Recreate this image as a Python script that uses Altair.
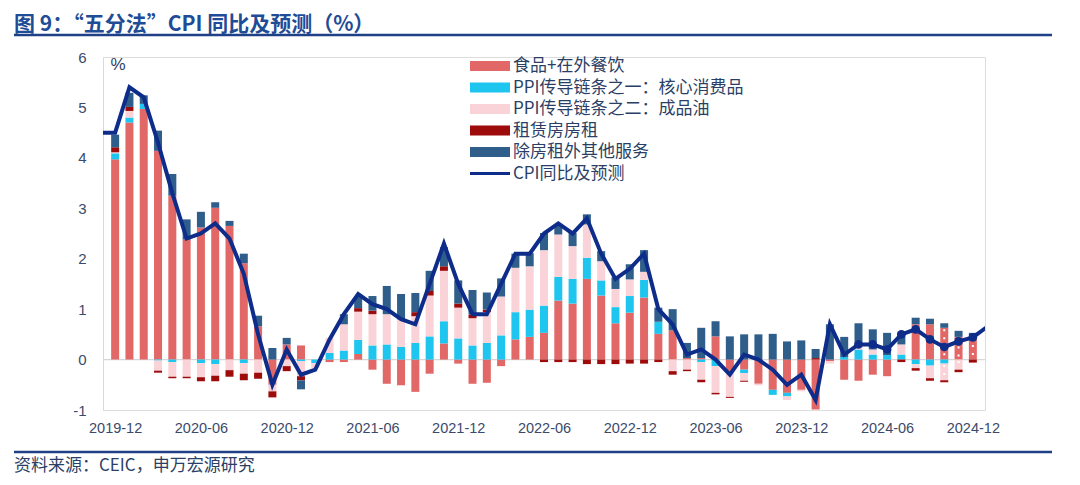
import altair as alt
import pandas as pd

# ---------------- data ----------------
months = [p.strftime("%Y-%m") for p in pd.period_range("2019-12", "2024-12", freq="M")]
tick_labels = ["2019-12", "2020-06", "2020-12", "2021-06", "2021-12", "2022-06",
               "2022-12", "2023-06", "2023-12", "2024-06", "2024-12"]

series_names = ["食品+在外餐饮", "PPI传导链条之一：核心消费品", "PPI传导链条之二：成品油",
                "租赁房房租", "除房租外其他服务"]
series_colors = ["#E26767", "#1EC6EF", "#F9D3D7", "#9E0B0B", "#2F5E8B"]
line_name = "CPI同比及预测"
line_color = "#0E2C8A"

food = [3.97, 4.70, 4.97, 4.14, 3.25, 2.38, 2.62, 3.01, 2.65, 1.91, 0.66, -0.50, 0.30, 0.28, 0.00,
        -0.05, -0.05, 0.11, -0.20, -0.48, -0.51, -0.64, -0.28, 0.32, -0.08, -0.48, -0.46, -0.13, 0.40, 0.45,
        0.53, 1.17, 1.11, 1.60, 1.27, 0.72, 0.93, 1.23, 0.51, 0.58, 0.03, 0.03, 0.46, -0.26, -0.20,
        -0.48, -0.60, -0.66, -0.60, -0.99,
        -0.03, -0.40, -0.42, -0.30, -0.33, 0.00, 0.70, 0.70, 0.63, 0.45, 0.48]
core = [0.12, 0.10, 0.10, -0.02, -0.05, 0.00, -0.07, -0.09, 0.00, -0.07, 0.00, 0.00, 0.00, -0.03, -0.07,
        0.13, 0.18, 0.28, 0.28, 0.30, 0.25, 0.33, 0.46, 0.44, 0.42, 0.28, 0.33, 0.48, 0.54, 0.54,
        0.54, 0.47, 0.49, 0.42, 0.30, 0.32, 0.33, 0.35, 0.24, 0.00, 0.00, -0.05, -0.13, 0.00, -0.07,
        0.00, -0.10, -0.07, 0.00, 0.00,
        0.00, 0.05, 0.20, 0.10, 0.09, 0.10, -0.09, -0.12, -0.08, 0.00, 0.00]
oil = [0.02, 0.13, 0.00, -0.20, -0.29, -0.34, -0.28, -0.23, -0.21, -0.21, -0.26, -0.13, -0.13, -0.30, -0.10,
       0.30, 0.52, 0.56, 0.62, 0.60, 0.55, 0.53, 0.81, 1.00, 0.61, 0.54, 0.61, 0.77, 0.88, 0.86,
       1.10, 0.84, 0.65, 0.66, 0.38, 0.36, 0.33, 0.16, 0.00, -0.23, -0.20, -0.35, -0.53, -0.48, -0.15,
       -0.03, 0.00, -0.07, -0.03, 0.00,
       -0.05, 0.00, 0.10, 0.10, 0.00, 0.20, -0.08, -0.25, -0.33, -0.20, 0.00]
rent = [0.10, 0.08, 0.00, -0.04, -0.03, -0.03, -0.08, -0.11, -0.13, -0.13, -0.12, -0.12, -0.10, -0.08, 0.00,
        0.00, 0.00, 0.07, 0.07, 0.00, 0.00, 0.08, 0.09, 0.09, 0.08, 0.07, 0.05, 0.00, 0.00, 0.00,
        -0.05, -0.05, -0.05, -0.09, -0.09, -0.09, -0.08, -0.08, -0.05, -0.07, -0.03, -0.05, -0.03, -0.02, -0.02,
        0.00, 0.00, 0.00, 0.00, 0.03,
        0.00, 0.00, 0.00, 0.00, 0.00, -0.05, -0.05, -0.05, -0.04, -0.05, -0.06]
serv = [0.25, 0.28, 0.17, 0.40, 0.43, 0.40, 0.31, 0.11, 0.10, 0.19, 0.21, 0.23, 0.13, -0.18, 0.00,
        0.00, 0.20, 0.23, 0.29, 0.56, 0.50, 0.38, 0.40, 0.38, 0.46, 0.49, 0.34, 0.36, 0.28, 0.26,
        0.34, 0.20, 0.26, 0.20, 0.20, 0.23, 0.30, 0.43, 0.28, 0.42, 0.30, 0.60, 0.30, 0.46, 0.50,
        0.50, 0.51, 0.36, 0.38, 0.18,
        0.70, 0.40, 0.42, 0.40, 0.44, 0.24, 0.13, 0.11, 0.09, 0.12, 0.05]

# CPI y/y: 2019-11 ... 2025-01 (first and last points are clipped at the plot edge)
cpi = [4.5,
       4.5, 5.4, 5.2, 4.3, 3.3, 2.4, 2.5, 2.7, 2.4, 1.7, 0.5, -0.5, 0.2,
       -0.3, -0.2, 0.4, 0.9, 1.3, 1.1, 1.0, 0.8, 0.7, 1.5, 2.3, 1.5,
       0.9, 0.9, 1.5, 2.1, 2.1, 2.5, 2.7, 2.5, 2.8, 2.1, 1.6, 1.8,
       2.1, 1.0, 0.7, 0.1, 0.2, 0.0, -0.3, 0.1, 0.0, -0.2, -0.5, -0.3,
       -0.8, 0.7, 0.1, 0.3, 0.3, 0.2, 0.5, 0.6, 0.4, 0.25, 0.36, 0.44,
       0.65]
marker_from = "2024-04"
forecast_from = "2024-10"          # bars drawn with a dotted (forecast) fill
dotted_series = ["食品+在外餐饮", "PPI传导链条之二：成品油"]

title_text = "图 9：“五分法”CPI 同比及预测（%）"
source_text = "资料来源：CEIC，申万宏源研究"
unit_text = "%"

# ---------------- tables ----------------
rows = []
for k, (name, vals) in enumerate(zip(series_names, [food, core, oil, rent, serv])):
    for i, m in enumerate(months):
        rows.append({"idx": i, "month": m, "series": name, "order": k, "value": vals[i]})
bars_df = pd.DataFrame(rows)

# stacked bounds (positives and negatives stacked separately) for the forecast dot overlay
seg_rows = []
f0 = months.index(forecast_from)
for i in range(f0, len(months)):
    pos, neg = 0.0, 0.0
    for name, vals in zip(series_names, [food, core, oil, rent, serv]):
        v = vals[i]
        if v >= 0:
            y0, y1 = pos, pos + v
            pos = y1
        else:
            y0, y1 = neg, neg + v
            neg = y1
        if name in dotted_series and abs(v) > 0.06:
            lo, hi = min(y0, y1), max(y0, y1)
            seg_rows.append({"idx": i, "lo": lo + 0.03, "hi": hi - 0.03})
seg_df = pd.DataFrame(seg_rows)

line_df = pd.DataFrame({"idx": list(range(-1, len(months) + 1)), "cpi": cpi})
m0 = months.index(marker_from)
pts_df = line_df[(line_df.idx >= m0) & (line_df.idx <= len(months) - 1)]

# ---------------- styling ----------------
W, H = 882, 353
CJK = "Noto Sans CJK SC"
NUM = "Liberation Sans"
TXT = "#2B3F66"
AX = "#3B4A6B"

label_arr = "[" + ",".join(f"'{t}'" for t in tick_labels) + "]"
tick_vals = [months.index(t) for t in tick_labels]

xscale = alt.Scale(domain=[-0.5, len(months) - 0.5], nice=False, zero=False)
yscale = alt.Scale(domain=[-1, 6], nice=False)

xaxis = alt.Axis(values=tick_vals, labelExpr=f"{label_arr}[datum.value/6]", title=None,
                 domain=False, ticks=False, grid=False, labelFont=NUM, labelFontSize=14.5,
                 labelColor=AX, labelPadding=11, labelFlush=False)
yaxis = alt.Axis(values=list(range(-1, 7)), labelExpr="'' + datum.value", title=None, grid=False,
                 domainColor="#D9D9D9", ticks=False, labelFont=NUM, labelFontSize=15,
                 labelColor=AX, labelPadding=17)

one = pd.DataFrame({"k": [0]})

zero_rule = alt.Chart(pd.DataFrame({"z": [0]})).mark_rule(color="#D6D6D6", strokeWidth=1.2).encode(
    y=alt.Y("z:Q", scale=yscale, axis=yaxis))

bars = alt.Chart(bars_df).mark_bar(size=8).encode(
    x=alt.X("idx:Q", scale=xscale, axis=xaxis),
    y=alt.Y("value:Q", stack="zero", scale=yscale, axis=yaxis),
    color=alt.Color("series:N", scale=alt.Scale(domain=series_names, range=series_colors), legend=None),
    order=alt.Order("order:Q"),
)

dots = alt.Chart(seg_df).mark_rule(color="white", strokeWidth=2, strokeDash=[2, 6]).encode(
    x=alt.X("idx:Q", scale=xscale), y=alt.Y("hi:Q", scale=yscale), y2="lo:Q")

line = alt.Chart(line_df).mark_line(color=line_color, strokeWidth=4, clip=True).encode(
    x=alt.X("idx:Q", scale=xscale), y=alt.Y("cpi:Q", scale=yscale))
pts = alt.Chart(pts_df).mark_circle(color=line_color, size=75, opacity=1).encode(
    x=alt.X("idx:Q", scale=xscale), y=alt.Y("cpi:Q", scale=yscale))

layers = [zero_rule, bars, dots, line, pts]

# unit label
layers.append(alt.Chart(one).mark_text(text=unit_text, font=NUM, fontSize=17, color=TXT,
                                       align="center", baseline="middle").encode(
    x=alt.value(15), y=alt.value(8)))

# legend
LX, LW, LY0, LDY = 367, 40, 9, 21.5
for i, (name, col) in enumerate(zip(series_names, series_colors)):
    yc = LY0 + i * LDY
    layers.append(alt.Chart(one).mark_rect(color=col).encode(
        x=alt.value(LX), x2=alt.value(LX + LW), y=alt.value(yc - 5), y2=alt.value(yc + 5)))
    layers.append(alt.Chart(one).mark_text(text=name, font=CJK, fontSize=17, color=TXT,
                                           align="left", baseline="middle").encode(
        x=alt.value(LX + LW + 3), y=alt.value(yc)))
yc = LY0 + 5 * LDY
layers.append(alt.Chart(one).mark_rule(color=line_color, strokeWidth=3).encode(
    x=alt.value(LX), x2=alt.value(LX + LW), y=alt.value(yc)))
layers.append(alt.Chart(one).mark_text(text=line_name, font=CJK, fontSize=17, color=TXT,
                                       align="left", baseline="middle").encode(
    x=alt.value(LX + LW + 3), y=alt.value(yc)))

# title + rules + source
layers.append(alt.Chart(one).mark_text(text=title_text, font=CJK, fontSize=21, fontWeight="bold",
                                       color="#1F4C96", align="left", baseline="alphabetic").encode(
    x=alt.value(-89), y=alt.value(-26)))
layers.append(alt.Chart(one).mark_rule(color="#1F3F86", strokeWidth=2.5).encode(
    x=alt.value(-89), x2=alt.value(949), y=alt.value(-22)))
layers.append(alt.Chart(one).mark_rule(color="#1F3F86", strokeWidth=2.5).encode(
    x=alt.value(-89), x2=alt.value(949), y=alt.value(395)))
layers.append(alt.Chart(one).mark_text(text=source_text, font=CJK, fontSize=17, color=TXT,
                                       align="left", baseline="alphabetic").encode(
    x=alt.value(-89), y=alt.value(414)))

chart = alt.layer(*layers).properties(
    width=W, height=H,
    padding={"left": 95, "top": 49, "right": 87, "bottom": 66},
    autosize=alt.AutoSizeParams(type="none"),
).configure_view(stroke=None).configure(background="white")

chart.save("out.html", embed_options={"renderer": "svg", "actions": False})
